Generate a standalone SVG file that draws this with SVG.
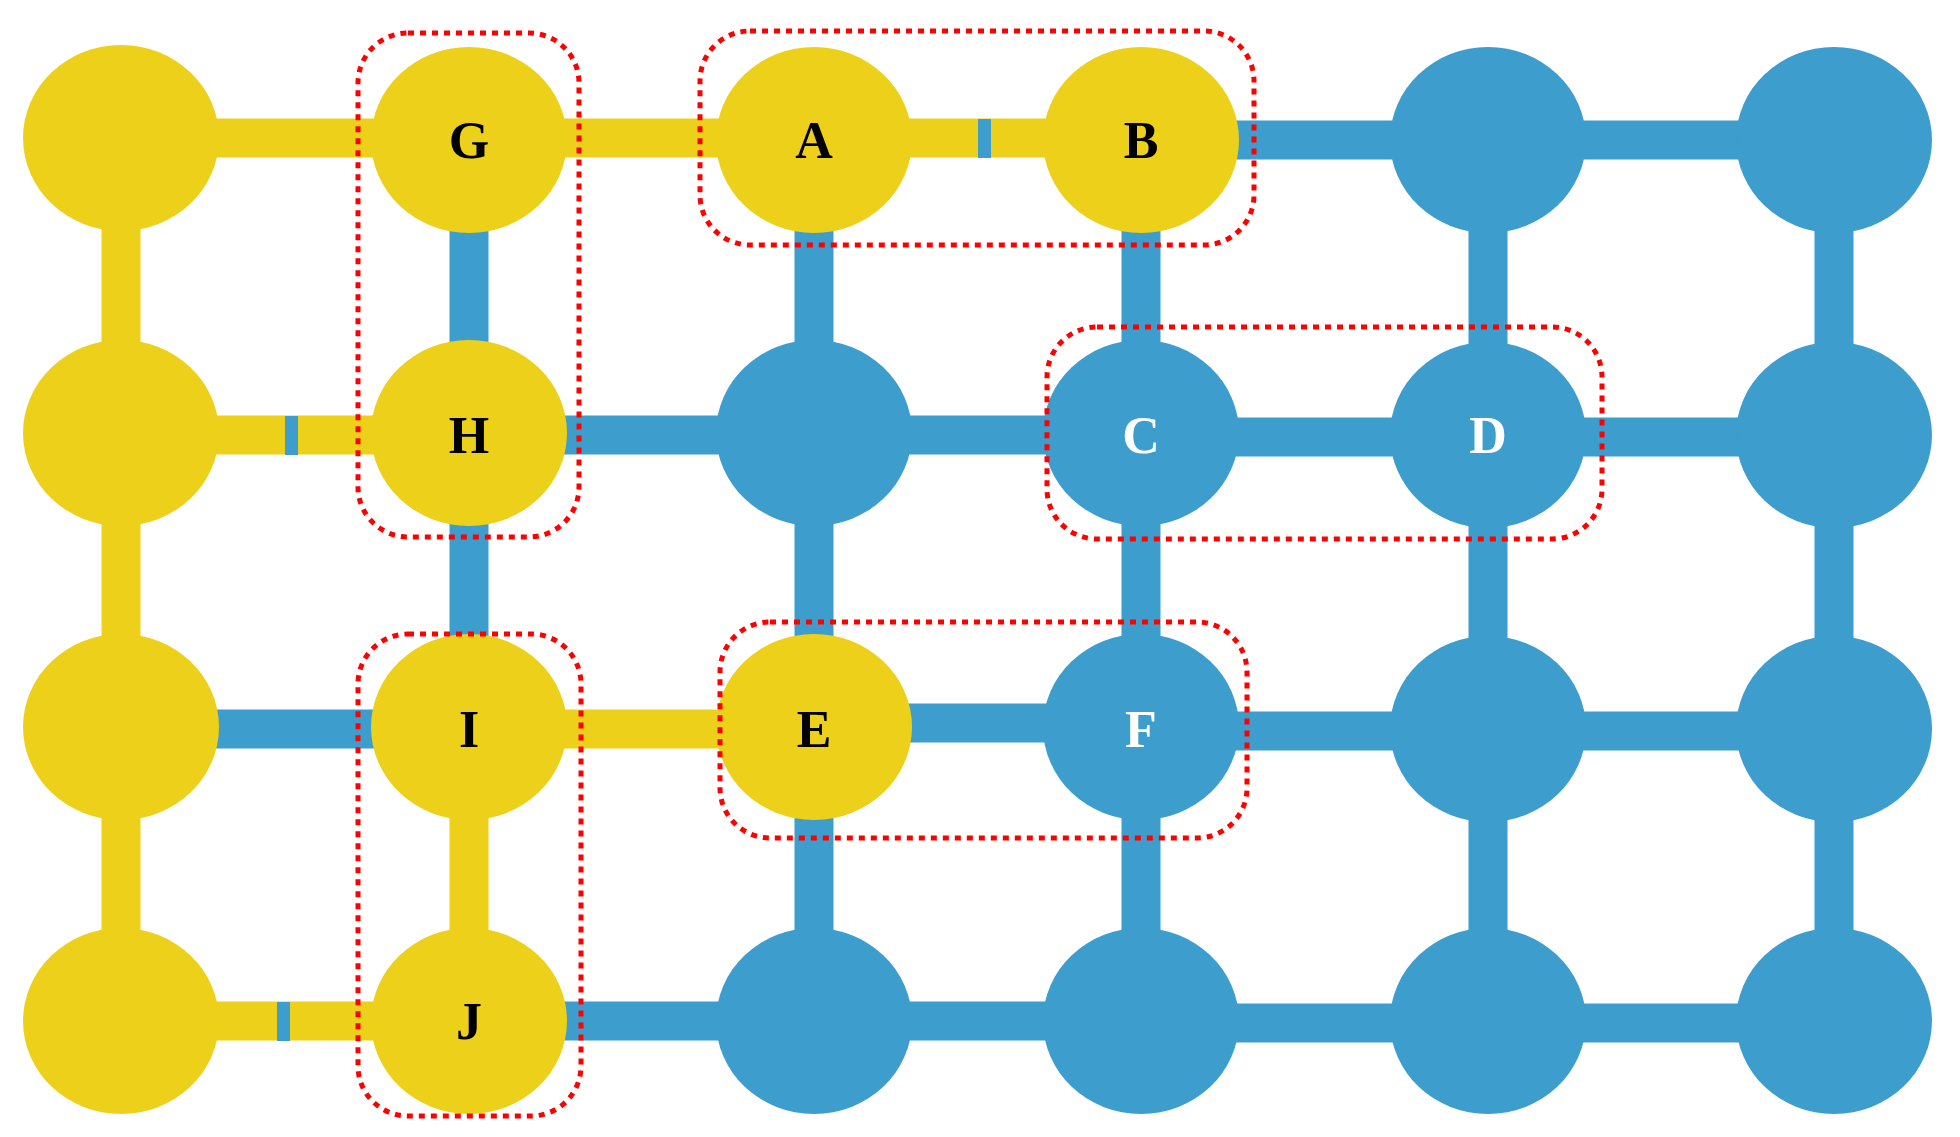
<svg xmlns="http://www.w3.org/2000/svg" width="1960" height="1137" viewBox="0 0 1960 1137">
<style>
.y{stroke:#EDD01A;stroke-width:39;fill:none}
.b{stroke:#3D9DCD;stroke-width:39;fill:none}
.ny{fill:#EDD01A}
.nb{fill:#3D9DCD}
.t{fill:#3D9DCD}
.lb{font-family:"Liberation Serif",serif;font-weight:bold;font-size:52px;text-anchor:middle;dominant-baseline:central}
.box{fill:none;stroke:#FF0000;stroke-width:5;stroke-dasharray:6 6}
</style>
<rect width="1960" height="1137" fill="#fff"/>
<g id="connectors">
<line class="y" x1="121" y1="138" x2="469" y2="138"/>
<line class="y" x1="469" y1="138" x2="814" y2="138"/>
<line class="y" x1="814" y1="138" x2="1141" y2="138"/>
<rect class="t" x="978" y="119" width="13" height="39"/>
<line class="b" x1="1141" y1="140" x2="1488" y2="140"/>
<line class="b" x1="1488" y1="140" x2="1834" y2="140"/>
<line class="y" x1="121" y1="435" x2="469" y2="435"/>
<rect class="t" x="285" y="416" width="13" height="39"/>
<line class="b" x1="469" y1="435" x2="814" y2="435"/>
<line class="b" x1="814" y1="435" x2="1141" y2="435"/>
<line class="b" x1="1141" y1="437" x2="1488" y2="437"/>
<line class="b" x1="1488" y1="437" x2="1834" y2="437"/>
<line class="b" x1="121" y1="729" x2="469" y2="729"/>
<line class="y" x1="469" y1="729" x2="814" y2="729"/>
<line class="b" x1="814" y1="723" x2="1141" y2="723"/>
<line class="b" x1="1141" y1="731" x2="1488" y2="731"/>
<line class="b" x1="1488" y1="731" x2="1834" y2="731"/>
<line class="y" x1="121" y1="1021" x2="469" y2="1021"/>
<rect class="t" x="277" y="1002" width="13" height="39"/>
<line class="b" x1="469" y1="1021" x2="814" y2="1021"/>
<line class="b" x1="814" y1="1021" x2="1141" y2="1021"/>
<line class="b" x1="1141" y1="1023" x2="1488" y2="1023"/>
<line class="b" x1="1488" y1="1023" x2="1834" y2="1023"/>
<line class="y" x1="121" y1="138" x2="121" y2="435"/>
<line class="y" x1="121" y1="435" x2="121" y2="729"/>
<line class="y" x1="121" y1="729" x2="121" y2="1021"/>
<line class="b" x1="469" y1="138" x2="469" y2="435"/>
<line class="b" x1="469" y1="435" x2="469" y2="729"/>
<line class="y" x1="469" y1="729" x2="469" y2="1021"/>
<line class="b" x1="814" y1="138" x2="814" y2="1021"/>
<line class="b" x1="1141" y1="138" x2="1141" y2="1021"/>
<line class="b" x1="1488" y1="140" x2="1488" y2="1021"/>
<line class="b" x1="1834" y1="140" x2="1834" y2="1021"/>
</g>
<g id="nodes">
<g id="n00"><ellipse class="ny" cx="121" cy="138" rx="98" ry="93"/></g>
<g id="G"><ellipse class="ny" cx="469" cy="140" rx="98" ry="93"/><text class="lb" x="469" y="140">G</text></g>
<g id="A"><ellipse class="ny" cx="814" cy="140" rx="98" ry="93"/><text class="lb" x="814" y="140">A</text></g>
<g id="B"><ellipse class="ny" cx="1141" cy="140" rx="98" ry="93"/><text class="lb" x="1141" y="140">B</text></g>
<g id="n04"><ellipse class="nb" cx="1488" cy="140" rx="98" ry="93"/></g>
<g id="n05"><ellipse class="nb" cx="1834" cy="140" rx="98" ry="93"/></g>
<g id="n10"><ellipse class="ny" cx="121" cy="433" rx="98" ry="93"/></g>
<g id="H"><ellipse class="ny" cx="469" cy="433" rx="98" ry="93"/><text class="lb" x="469" y="435">H</text></g>
<g id="n12"><ellipse class="nb" cx="814" cy="433" rx="98" ry="93"/></g>
<g id="C"><ellipse class="nb" cx="1141" cy="433" rx="98" ry="93"/><text class="lb" x="1141" y="435" fill="#fff">C</text></g>
<g id="D"><ellipse class="nb" cx="1488" cy="435" rx="98" ry="93"/><text class="lb" x="1488" y="435" fill="#fff">D</text></g>
<g id="n15"><ellipse class="nb" cx="1834" cy="435" rx="98" ry="93"/></g>
<g id="n20"><ellipse class="ny" cx="121" cy="727" rx="98" ry="93"/></g>
<g id="I"><ellipse class="ny" cx="469" cy="727" rx="98" ry="93"/><text class="lb" x="469" y="729">I</text></g>
<g id="E"><ellipse class="ny" cx="814" cy="727" rx="98" ry="93"/><text class="lb" x="814" y="729">E</text></g>
<g id="F"><ellipse class="nb" cx="1141" cy="727" rx="98" ry="93"/><text class="lb" x="1141" y="729" fill="#fff">F</text></g>
<g id="n24"><ellipse class="nb" cx="1488" cy="729" rx="98" ry="93"/></g>
<g id="n25"><ellipse class="nb" cx="1834" cy="729" rx="98" ry="93"/></g>
<g id="n30"><ellipse class="ny" cx="121" cy="1021" rx="98" ry="93"/></g>
<g id="J"><ellipse class="ny" cx="469" cy="1021" rx="98" ry="93"/><text class="lb" x="469" y="1021">J</text></g>
<g id="n32"><ellipse class="nb" cx="814" cy="1021" rx="98" ry="93"/></g>
<g id="n33"><ellipse class="nb" cx="1141" cy="1021" rx="98" ry="93"/></g>
<g id="n34"><ellipse class="nb" cx="1488" cy="1021" rx="98" ry="93"/></g>
<g id="n35"><ellipse class="nb" cx="1834" cy="1021" rx="98" ry="93"/></g>
</g>
<g id="groups">
<rect class="box" x="358" y="33" width="221" height="504" rx="50"/>
<rect class="box" x="700" y="31" width="554" height="214" rx="50"/>
<rect class="box" x="1047" y="327" width="555" height="212" rx="50"/>
<rect class="box" x="720" y="622" width="527" height="216" rx="50"/>
<rect class="box" x="358" y="634" width="223" height="482" rx="50"/>
</g>
</svg>
